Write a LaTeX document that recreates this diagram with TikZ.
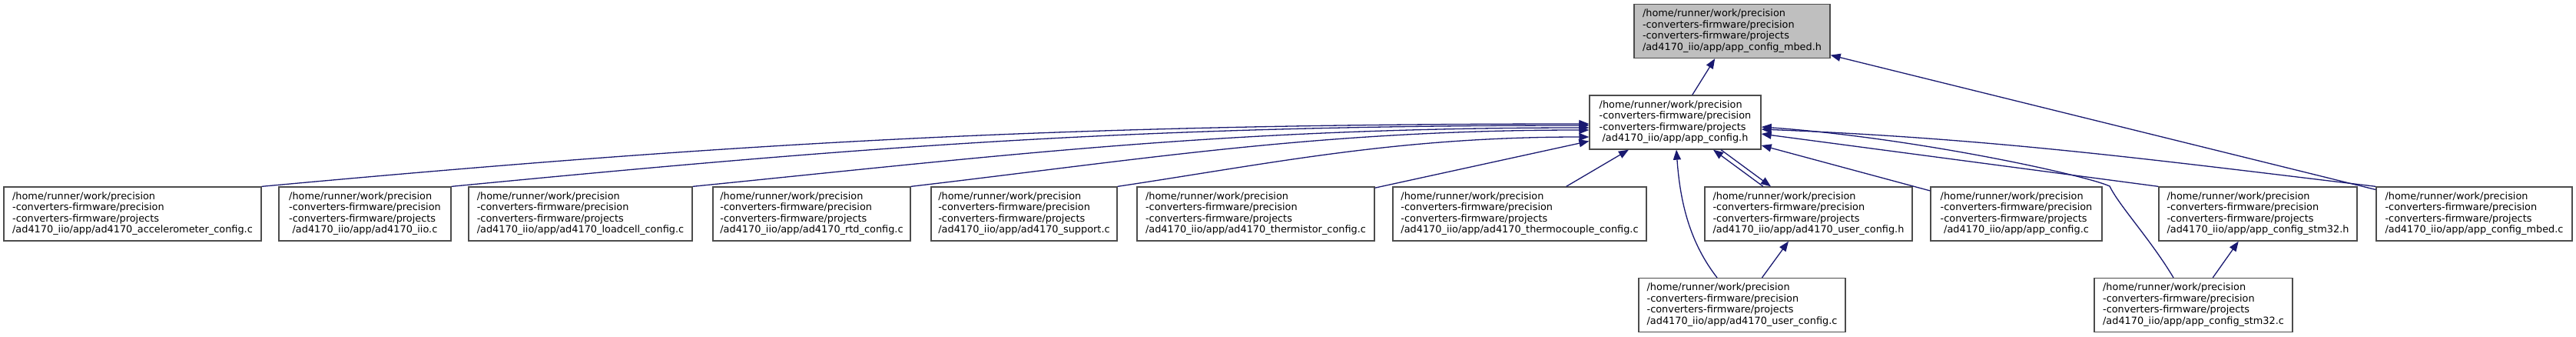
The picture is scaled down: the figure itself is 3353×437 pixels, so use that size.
\documentclass[tikz,border=0pt]{standalone}
\usepackage{fontspec}
\setmainfont{DejaVu Sans}
\usetikzlibrary{arrows.meta}
\definecolor{edgeblue}{HTML}{191970}
\newcommand{\doxfont}{\fontsize{12.87}{14.5}\selectfont}
\newcommand{\doxlabel}[1]{\begin{tabular}{@{}l@{}}/home/runner/work/precision\\-converters-firmware/precision\\-converters-firmware/projects\\\multicolumn{1}{@{}c@{}}{/ad4170\_iio/app/#1}\end{tabular}}

\begin{document}
\begin{tikzpicture}[x=1pt,y=-1pt,>={Triangle[length=13pt,width=10pt]},
  filebox/.style={draw=black!70,line width=1.3pt,fill=white,inner sep=0pt,minimum height=70pt,font=\doxfont},
  curfile/.style={filebox,fill=black!25},
  incl/.style={->,draw=edgeblue,line width=1.3pt}]
\useasboundingbox (0,0) rectangle (3353,437);
\node[curfile,minimum width=255pt] (mbedh) at (2254.5,40.5) {\doxlabel{app\_config\_mbed.h}};
\node[filebox,minimum width=223pt] (appcfgh) at (2180.5,159) {\doxlabel{app\_config.h}};
\node[filebox,minimum width=335pt] (accel) at (172.5,278) {\doxlabel{ad4170\_accelerometer\_config.c}};
\node[filebox,minimum width=224pt] (iio) at (475,278) {\doxlabel{ad4170\_iio.c}};
\node[filebox,minimum width=291pt] (loadcell) at (755.5,278) {\doxlabel{ad4170\_loadcell\_config.c}};
\node[filebox,minimum width=257pt] (rtd) at (1056.5,278) {\doxlabel{ad4170\_rtd\_config.c}};
\node[filebox,minimum width=242pt] (support) at (1333,278) {\doxlabel{ad4170\_support.c}};
\node[filebox,minimum width=309pt] (thermistor) at (1634.5,278) {\doxlabel{ad4170\_thermistor\_config.c}};
\node[filebox,minimum width=330pt] (thermocouple) at (1978,278) {\doxlabel{ad4170\_thermocouple\_config.c}};
\node[filebox,minimum width=270pt] (userh) at (2354,278) {\doxlabel{ad4170\_user\_config.h}};
\node[filebox,minimum width=223pt] (appc) at (2624.5,278) {\doxlabel{app\_config.c}};
\node[filebox,minimum width=258pt] (stm32h) at (2939,278) {\doxlabel{app\_config\_stm32.h}};
\node[filebox,minimum width=255pt] (mbedc) at (3220.5,278) {\doxlabel{app\_config\_mbed.c}};
\node[filebox,minimum width=269pt] (userc) at (2267.5,396.5) {\doxlabel{ad4170\_user\_config.c}};
\node[filebox,minimum width=258pt] (stm32c) at (2855,396.5) {\doxlabel{app\_config\_stm32.c}};
\draw[incl] (appcfgh) -- (mbedh);
\draw[incl] (mbedc) -- (mbedh);
\draw[incl] (accel.north east) .. controls +(600,-55) and +(-700,0) .. ([yshift=-2pt]appcfgh.west);
\draw[incl] (iio.north east) .. controls +(520,-50) and +(-600,0) .. ([yshift=-4pt]appcfgh.west);
\draw[incl] (loadcell.north east) .. controls +(400,-40) and +(-470,0) .. ([yshift=-7pt]appcfgh.west);
\draw[incl] (rtd.north east) .. controls +(300,-35) and +(-350,0) .. ([yshift=-10pt]appcfgh.west);
\draw[incl] (support.north east) .. controls +(200,-30) and +(-250,0) .. ([yshift=-19pt]appcfgh.west);
\draw[incl] (thermistor) -- (appcfgh);
\draw[incl] (thermocouple) -- (appcfgh);
\draw[incl] ([xshift=-59pt]userh.north) -- ([xshift=49.5pt]appcfgh.south);
\draw[incl] ([xshift=59.5pt]appcfgh.south) -- ([xshift=-49pt]userh.north);
\draw[incl] (appc) -- (appcfgh);
\draw[incl] (stm32h.north west) -- ([yshift=-15pt]appcfgh.east);
\draw[incl] (mbedc.north west) .. controls +(-300,-36) and +(300,12) .. ([yshift=-9pt]appcfgh.east);
\draw[incl] ([xshift=-26pt]stm32c.north) .. controls +(-30,-50) and +(12,25) .. (2746,242) .. controls +(-30,-14) and +(200,14) .. ([yshift=-6pt]appcfgh.east);
\draw[incl] ([xshift=-32.5pt]userc.north) .. controls +(-35,-45) and +(5,70) .. ([xshift=1.5pt]appcfgh.south);
\draw[incl] (userc) -- (userh);
\draw[incl] (stm32c) -- (stm32h);
\end{tikzpicture}
\end{document}
